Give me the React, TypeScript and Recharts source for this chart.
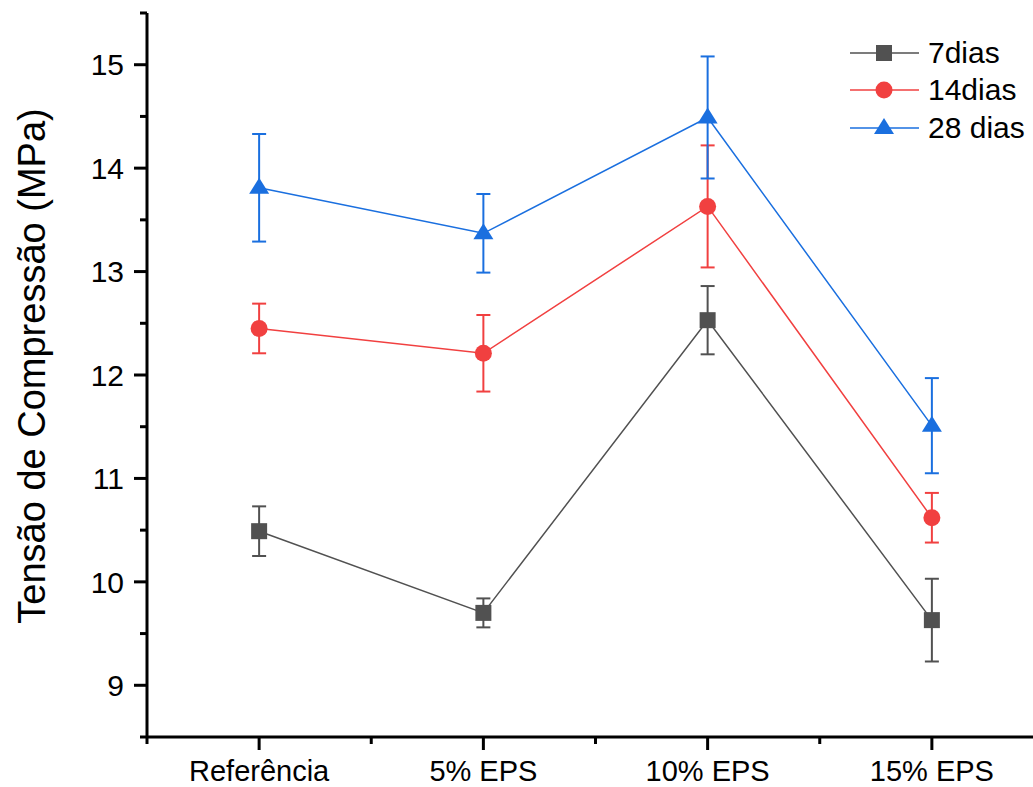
import {
  LineChart,
  Line,
  XAxis,
  YAxis,
  ErrorBar,
  Legend,
} from "recharts";

const categories = ["Referência", "5% EPS", "10% EPS", "15% EPS"];
const dias7 = [10.49, 9.7, 12.53, 9.63];
const err7 = [0.24, 0.14, 0.33, 0.4];
const dias14 = [12.45, 12.21, 13.63, 10.62];
const err14 = [0.24, 0.37, 0.59, 0.24];
const dias28 = [13.81, 13.37, 14.49, 11.51];
const err28 = [0.52, 0.38, 0.59, 0.46];

const xTicks = [-0.5, 0, 0.5, 1, 1.5, 2, 2.5, 3, 3.5];
const yTicks = [8.5, 9, 9.5, 10, 10.5, 11, 11.5, 12, 12.5, 13, 13.5, 14, 14.5, 15, 15.5];

const FONT = "'Liberation Sans', Arial, sans-serif";
const GRAY = "#515151";
const RED = "#F14040";
const BLUE = "#1A6FDF";

const data = categories.map((name, i) => ({
  idx: i,
  name,
  d7: dias7[i],
  e7: err7[i],
  d14: dias14[i],
  e14: err14[i],
  d28: dias28[i],
  e28: err28[i],
}));

const series = [
  { key: "d7", err: "e7", name: "7dias", color: GRAY, shape: "square" },
  { key: "d14", err: "e14", name: "14dias", color: RED, shape: "circle" },
  { key: "d28", err: "e28", name: "28 dias", color: BLUE, shape: "triangle" },
];

function Marker({ cx, cy, shape, color }: any) {
  if (cx == null || cy == null) return null;
  if (shape === "square") {
    return <rect x={cx - 8} y={cy - 8} width={16} height={16} fill={color} />;
  }
  if (shape === "circle") {
    return <circle cx={cx} cy={cy} r={8.5} fill={color} />;
  }
  return (
    <polygon
      points={`${cx},${cy - 10} ${cx - 10},${cy + 6} ${cx + 10},${cy + 6}`}
      fill={color}
    />
  );
}

function XTick({ x, y, payload }: any) {
  const v = payload.value;
  const major = Number.isInteger(v);
  return (
    <g>
      <line x1={x} x2={x} y1={y} y2={y + (major ? 13 : 7)} stroke="#000" strokeWidth={3} />
      {major && (
        <text x={x} y={y + 44} textAnchor="middle" fontSize={29} fontFamily={FONT} fill="#000">
          {categories[v]}
        </text>
      )}
    </g>
  );
}

function YTick({ x, y, payload }: any) {
  const v = payload.value;
  const major = Number.isInteger(v);
  return (
    <g>
      <line x1={x - (major ? 13 : 7)} x2={x} y1={y} y2={y} stroke="#000" strokeWidth={3} />
      {major && (
        <text x={x - 23} y={y} dy="0.355em" textAnchor="end" fontSize={30} fontFamily={FONT} fill="#000">
          {v}
        </text>
      )}
    </g>
  );
}

function YLabel({ viewBox }: any) {
  const cx = 32;
  const cy = viewBox.y + viewBox.height / 2 - 9;
  return (
    <text
      x={cx}
      y={cy}
      transform={`rotate(-90, ${cx}, ${cy})`}
      textAnchor="middle"
      dominantBaseline="central"
      fontSize={38}
      fontFamily={FONT}
      fill="#000"
    >
      Tensão de Compressão (MPa)
    </text>
  );
}

function LegendBox() {
  return (
    <div>
      {series.map((s) => (
        <div key={s.key} style={{ display: "flex", alignItems: "center", height: 37.5 }}>
          <svg width={74} height={30}>
            <line x1={2} x2={71} y1={15} y2={15} stroke={s.color} strokeWidth={1.5} />
            <Marker cx={36} cy={15} shape={s.shape} color={s.color} />
          </svg>
          <span style={{ marginLeft: 6, fontSize: 30, fontFamily: FONT, color: "#000", lineHeight: "30px" }}>
            {s.name}
          </span>
        </div>
      ))}
    </div>
  );
}

export default function App() {
  return (
    <div
      style={{
        position: "absolute",
        left: 0,
        top: 0,
        width: 1033,
        height: 787,
        overflow: "hidden",
        background: "#fff",
      }}
    >
      <LineChart
        width={1060}
        height={787}
        data={data}
        margin={{ top: 13, right: 16, bottom: 0, left: 0 }}
      >
        <XAxis
          dataKey="idx"
          type="number"
          domain={[-0.5, 3.5]}
          ticks={xTicks}
          interval={0}
          allowDataOverflow
          height={50}
          tickSize={0}
          tickMargin={0}
          tickLine={false}
          axisLine={{ stroke: "#000", strokeWidth: 3 }}
          tick={<XTick />}
        />
        <XAxis
          xAxisId="top"
          dataKey="idx"
          type="number"
          domain={[-0.5, 3.5]}
          orientation="top"
          height={0}
          tick={false}
          tickLine={false}
          axisLine={{ stroke: "#000", strokeWidth: 3 }}
        />
        <YAxis
          type="number"
          domain={[8.5, 15.5]}
          ticks={yTicks}
          interval={0}
          allowDataOverflow
          width={147}
          tickSize={0}
          tickMargin={0}
          tickLine={false}
          axisLine={{ stroke: "#000", strokeWidth: 3 }}
          tick={<YTick />}
          label={<YLabel />}
        />
        <Legend
          layout="vertical"
          align="center"
          verticalAlign="middle"
          content={<LegendBox />}
          wrapperStyle={{ position: "absolute", top: 34, left: 848, width: 190 }}
        />
        {series.map((s) => (
          <Line
            key={s.key}
            dataKey={s.key}
            name={s.name}
            type="linear"
            stroke={s.color}
            strokeWidth={1.5}
            isAnimationActive={false}
            dot={(p: any) => <Marker key={p.index} cx={p.cx} cy={p.cy} shape={s.shape} color={s.color} />}
            activeDot={false}
          >
            <ErrorBar dataKey={s.err} direction="y" width={7} strokeWidth={2} stroke={s.color} />
          </Line>
        ))}
      </LineChart>
    </div>
  );
}
